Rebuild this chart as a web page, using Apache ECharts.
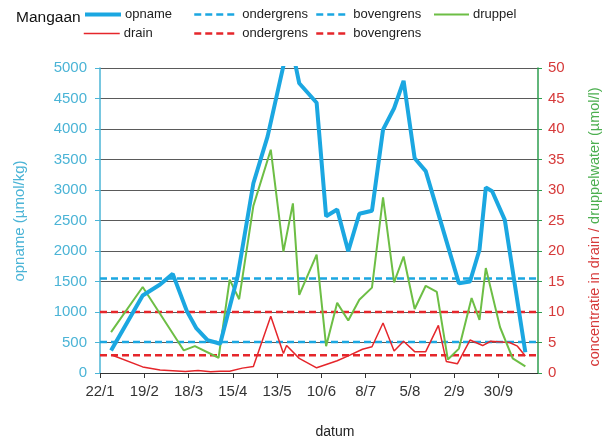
<!DOCTYPE html>
<html><head><meta charset="utf-8">
<script src="https://cdn.jsdelivr.net/npm/echarts@6.0.0/dist/echarts.min.js"></script>
<style>html,body{margin:0;padding:0;background:#fff}#c{width:608px;height:446px}</style>
</head><body><div id="c"></div>
<script>
// ---- data (year 2008, dates as d/m) ----
const YEAR = 2008;
const tickLabels = ['22/1','19/2','18/3','15/4','13/5','10/6','8/7','5/8','2/9','30/9'];
const axisStart = '22/1';
const axisEnd = '25/10';

const opnameDates = ['29/1','18/2','29/2','8/3','17/3','23/3','30/3','7/4','18/4','28/4','7/5','21/5','27/5','7/6','13/6','20/6','27/6','4/7','12/7','19/7','26/7','1/8','8/8','15/8','5/9','12/9','18/9','22/9','26/9','4/10','17/10'];
const opname = [370,1270,1450,1625,1010,730,540,480,1580,3110,3880,5500,4750,4430,2570,2680,1995,2610,2660,3990,4340,4790,3520,3310,1470,1500,2020,3040,2980,2510,340];

const drainDates = ['29/1','18/2','29/2','16/3','24/3','1/4','7/4','13/4','21/4','28/4','9/5','17/5','19/5','27/5','7/6','20/6','27/6','6/7','12/7','19/7','26/7','1/8','8/8','15/8','23/8','28/8','4/9','12/9','20/9','25/9','7/10','12/10','17/10'];
const drain = [3.0,1.0,0.5,0.25,0.42,0.2,0.27,0.3,0.8,1.05,9.3,3.2,4.5,2.4,0.85,2.0,2.8,3.9,4.3,8.2,3.6,5.2,3.5,3.5,7.8,1.9,1.5,5.4,4.5,5.2,5.0,4.4,2.8];

const druppelDates = ['29/1','18/2','15/3','22/3','6/4','13/4','19/4','28/4','9/5','17/5','23/5','27/5','7/6','13/6','20/6','27/6','4/7','12/7','19/7','26/7','1/8','8/8','15/8','22/8','29/8','5/9','13/9','18/9','22/9','1/10','9/10','17/10'];
const druppel = [6.7,14.1,3.7,4.4,2.5,15.3,12.1,27.4,36.6,19.9,27.8,12.8,19.4,4.4,11.5,8.6,12.0,14.0,28.8,14.85,19.1,10.5,14.3,13.3,2.2,4.0,12.3,8.7,17.2,7.5,2.4,1.1];

const opnameOnder = 510, opnameBoven = 1550;   // µmol/kg
const drainOnder = 2.9, drainBoven = 10;       // µmol/l

// ---- helpers ----
function toUTC(s){ const [d,m] = s.split('/').map(Number); return Date.UTC(YEAR, m-1, d); }
const DAY = 86400000;
function dayOf(s){ return Math.round((toUTC(s) - toUTC(axisStart)) / DAY); }
function pairs(dates, vals){ return dates.map((d,i)=>[dayOf(d), vals[i]]); }
const xMax = dayOf(axisEnd);
const step = dayOf(tickLabels[1]) - dayOf(tickLabels[0]);
const flat = v => [[0, v], [xMax, v]];

const CYAN = '#1BA7E1', RED = '#E5262B', GREEN = '#6DBE45';
const FONT = 'Liberation Sans, Arial, sans-serif';

const names = {
  opname:'opname', drain:'drain', druppel:'druppel',
  oo:'ondergrens', ob:'bovengrens', do:'ondergrens', db:'bovengrens'
};

function lg(key, left, top, w, lw){
  return { data:[key], left, top, itemWidth:w, itemHeight:12, padding:0,
    formatter: n => names[n], selectedMode:false,
    itemStyle:{ opacity:0 },
    lineStyle:{ width: lw },
    textStyle:{ fontFamily:FONT, fontSize:13, color:'#222', padding:[0,0,0,-1] } };
}

const chart = echarts.init(document.getElementById('c'), null, {renderer:'canvas'});
chart.setOption({
  animation:false,
  backgroundColor:'#fff',
  title:{ text:'Mangaan', left:11, top:5, textStyle:{ fontFamily:FONT, fontSize:15.5, fontWeight:'normal', color:'#111' } },
  legend:[
    lg('opname', 83, 8, 36, 4), lg('oo', 193, 8, 44, 2.5), lg('ob', 315, 8, 33, 2.5), lg('druppel', 433, 8, 35, 2),
    lg('drain', 83, 27, 36, 1.5), lg('do', 193, 27, 44, 2.5), lg('db', 315, 27, 33, 2.5)
  ],
  grid:{ left:100, right:70, top:68, bottom:73, containLabel:false },
  xAxis:{
    type:'value', min:0, max:xMax, interval:step,
    axisLine:{ show:true, onZero:false, lineStyle:{ color:'#333', width:1 } },
    axisTick:{ show:true, length:5, lineStyle:{ color:'#333' } },
    splitLine:{ show:false },
    axisLabel:{ margin:11, fontFamily:FONT, fontSize:15, color:'#333',
      showMaxLabel:false,
      formatter: v => (v % step === 0 && tickLabels[v/step]) ? tickLabels[v/step] : '' }
  },
  yAxis:[
    { type:'value', min:0, max:5000, interval:500, position:'left',
      axisLine:{ show:true, lineStyle:{ color:'#4BB4D6', width:1.5 } },
      axisTick:{ show:true, length:5, lineStyle:{ color:'#4BB4D6' } },
      splitLine:{ show:true, lineStyle:{ color:'#5a5a5a', width:1 } },
      axisLabel:{ margin:13, fontFamily:FONT, fontSize:15, color:'#4BB4D6', formatter: v => String(v) } },
    { type:'value', min:0, max:50, interval:5, position:'right',
      axisLine:{ show:true, lineStyle:{ color:'#2E9E4F', width:1.5 } },
      axisTick:{ show:true, length:4, lineStyle:{ color:'#2E9E4F' } },
      splitLine:{ show:false },
      axisLabel:{ margin:10, fontFamily:FONT, fontSize:15, color:'#D63A3A', formatter: v => String(v) } }
  ],
  graphic:[
    { type:'text', x:20, y:221, rotation:Math.PI/2,
      style:{ text:'opname (µmol/kg)', font:'15px Liberation Sans, Arial', fill:'#4BB4D6', align:'center', verticalAlign:'middle' } },
    { type:'text', x:595, y:227, rotation:Math.PI/2,
      style:{ text:'{r|concentratie in drain / }{g|druppelwater (µmol/l)}', align:'center', verticalAlign:'middle',
        font:'14.5px Liberation Sans, Arial',
        rich:{ r:{ fill:'#D63A3A', font:'14.5px Liberation Sans, Arial' }, g:{ fill:'#4CAF50', font:'14.5px Liberation Sans, Arial' } } } },
    { type:'text', x:335, y:432,
      style:{ text:'datum', font:'14px Liberation Sans, Arial', fill:'#222', align:'center', verticalAlign:'middle' } }
  ],
  series:[
    { name:'oo', type:'line', yAxisIndex:0, symbol:'none', data:flat(opnameOnder), lineStyle:{ color:CYAN, width:2.5, type:[7,4] }, itemStyle:{color:CYAN}, z:3 },
    { name:'ob', type:'line', yAxisIndex:0, symbol:'none', data:flat(opnameBoven), lineStyle:{ color:CYAN, width:2.5, type:[7,4] }, itemStyle:{color:CYAN}, z:3 },
    { name:'do', type:'line', yAxisIndex:1, symbol:'none', data:flat(drainOnder), lineStyle:{ color:RED, width:2.5, type:[7,4] }, itemStyle:{color:RED}, z:3 },
    { name:'db', type:'line', yAxisIndex:1, symbol:'none', data:flat(drainBoven), lineStyle:{ color:RED, width:2.5, type:[7,4] }, itemStyle:{color:RED}, z:3 },
    { name:'drain', type:'line', yAxisIndex:1, symbol:'none', data:pairs(drainDates, drain), lineStyle:{ color:RED, width:1.5 }, itemStyle:{color:RED}, z:4 },
    { name:'druppel', type:'line', yAxisIndex:1, symbol:'none', data:pairs(druppelDates, druppel), lineStyle:{ color:GREEN, width:2 }, itemStyle:{color:GREEN}, z:5 },
    { name:'opname', type:'line', yAxisIndex:0, symbol:'none', data:pairs(opnameDates, opname), lineStyle:{ color:CYAN, width:4 }, itemStyle:{color:CYAN}, z:6, clip:true }
  ]
});
</script></body></html>
